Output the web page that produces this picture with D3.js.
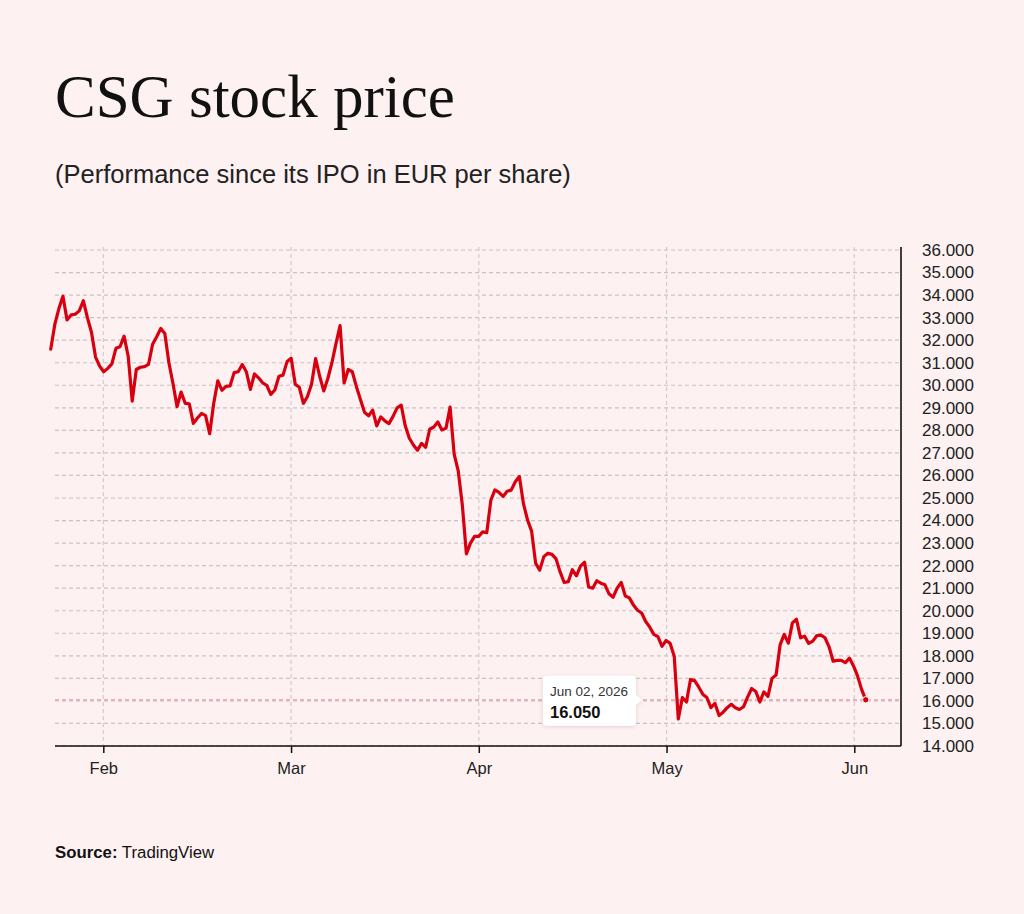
<!DOCTYPE html>
<html>
<head>
<meta charset="utf-8">
<script src="https://cdn.jsdelivr.net/npm/d3@7"></script>
<style>
  html, body { margin: 0; padding: 0; background: #fdf1f1; }
  svg { display: block; }
</style>
</head>
<body>
<svg id="chart" width="1024" height="914"></svg>
<script>
// month ticks (x unit = month number, Feb 1st = 1)
const monthLabels = ["Feb", "Mar", "Apr", "May", "Jun"];
const monthTicks = [1, 2, 3, 4, 5];
const priceTicks = d3.range(14, 37);

// first and last quote in month units, quotes are evenly spaced between them
const firstQuote = 0.72;
const lastQuote = 5.061;

// CSG closing prices, EUR per share
const prices = [
  31.6, 32.7, 33.4, 33.95, 32.9, 33.12, 33.15, 33.3, 33.75, 33.0,
  32.35, 31.25, 30.85, 30.6, 30.75, 30.95, 31.64, 31.71, 32.18, 31.3,
  29.3, 30.7, 30.8, 30.83, 30.93, 31.82, 32.15, 32.52, 32.3, 31.0,
  30.08, 29.05, 29.7, 29.2, 29.18, 28.31, 28.55, 28.75, 28.65, 27.85,
  29.2, 30.2, 29.78, 29.95, 29.97, 30.56, 30.6, 30.92, 30.6, 29.82,
  30.5, 30.33, 30.11, 30.0, 29.6, 29.79, 30.4, 30.45, 31.05, 31.2,
  30.05, 29.91, 29.2, 29.5, 30.05, 31.18, 30.4, 29.75, 30.3, 31.0,
  31.85, 32.65, 30.1, 30.7, 30.6, 29.95, 29.37, 28.8, 28.65, 28.9,
  28.2, 28.6, 28.42, 28.3, 28.62, 29.0, 29.12, 28.2, 27.65, 27.35,
  27.12, 27.42, 27.25, 28.05, 28.15, 28.37, 28.02, 28.1, 29.03, 26.95,
  26.2, 24.7, 22.52, 23.0, 23.3, 23.3, 23.5, 23.46, 24.9, 25.36,
  25.25, 25.07, 25.3, 25.35, 25.72, 25.95, 24.75, 24.03, 23.53, 22.1,
  21.8, 22.4, 22.55, 22.5, 22.3, 21.72, 21.25, 21.29, 21.82, 21.55,
  21.98, 22.15, 21.05, 21.0, 21.33, 21.22, 21.15, 20.75, 20.6, 21.0,
  21.25, 20.65, 20.57, 20.25, 20.02, 19.9, 19.52, 19.27, 18.95, 18.85,
  18.42, 18.68, 18.55, 17.98, 15.2, 16.15, 15.95, 16.95, 16.9, 16.62,
  16.3, 16.15, 15.7, 15.89, 15.35, 15.5, 15.7, 15.85, 15.7, 15.62,
  15.74, 16.17, 16.55, 16.42, 15.95, 16.4, 16.2, 17.0, 17.15, 18.5,
  18.95, 18.56, 19.46, 19.62, 18.8, 18.87, 18.55, 18.65, 18.9, 18.92,
  18.8, 18.4, 17.76, 17.8, 17.8, 17.7, 17.9, 17.55, 17.1, 16.5,
  16.05
];

const lastDate = "Jun 02, 2026";
const lastPrice = prices[prices.length - 1];

const svg = d3.select("#chart");
const plot = { left: 55, right: 901, top: 250, bottom: 746 };

const x = d3.scaleLinear().domain([1, 5]).range([103.3, 854.3]);
const y = d3.scaleLinear().domain([14, 36]).range([plot.bottom, plot.top]);
const step = (lastQuote - firstQuote) / (prices.length - 1);
const data = prices.map((p, i) => ({ t: firstQuote + i * step, v: p }));

// titles
svg.append("text")
  .attr("x", 55).attr("y", 117)
  .attr("font-family", "Liberation Serif, Times New Roman, serif")
  .attr("font-size", 61)
  .attr("fill", "#111")
  .text("CSG stock price");

svg.append("text")
  .attr("x", 55).attr("y", 183)
  .attr("font-family", "Liberation Sans, Arial, sans-serif")
  .attr("font-size", 25.5)
  .attr("fill", "#222")
  .text("(Performance since its IPO in EUR per share)");

// grid
svg.append("g")
  .selectAll("line")
  .data(priceTicks)
  .join("line")
  .attr("x1", plot.left).attr("x2", plot.right)
  .attr("y1", d => y(d)).attr("y2", d => y(d))
  .attr("stroke", "#c8c4c4")
  .attr("stroke-width", 1.2)
  .attr("stroke-dasharray", "4,3");

svg.append("g")
  .selectAll("line")
  .data(monthTicks)
  .join("line")
  .attr("x1", d => x(d)).attr("x2", d => x(d))
  .attr("y1", plot.top - 3).attr("y2", plot.bottom)
  .attr("stroke", "#d2cccc")
  .attr("stroke-width", 1.2)
  .attr("stroke-dasharray", "4,3");

// last price marker line
svg.append("line")
  .attr("x1", plot.left).attr("x2", plot.right)
  .attr("y1", y(lastPrice)).attr("y2", y(lastPrice))
  .attr("stroke", "#f09a9e")
  .attr("stroke-width", 1.2)
  .attr("stroke-dasharray", "4,3");

// axes
const xAxis = d3.axisBottom(x)
  .tickValues(monthTicks)
  .tickFormat((d, i) => monthLabels[i])
  .tickSize(7)
  .tickPadding(9);

const gx = svg.append("g")
  .attr("transform", `translate(0,${plot.bottom})`)
  .call(xAxis);
gx.select(".domain").remove();
gx.selectAll(".tick line").attr("stroke", "#111").attr("stroke-width", 1.5);
gx.selectAll(".tick text")
  .attr("font-family", "Liberation Sans, Arial, sans-serif")
  .attr("font-size", 16.5)
  .attr("fill", "#222");

const yAxis = d3.axisRight(y)
  .tickValues(priceTicks)
  .tickFormat(d3.format(".3f"))
  .tickSize(0)
  .tickPadding(21);

const gy = svg.append("g")
  .attr("transform", `translate(${plot.right},0)`)
  .call(yAxis);
gy.select(".domain").remove();
gy.selectAll(".tick text")
  .attr("font-family", "Liberation Sans, Arial, sans-serif")
  .attr("font-size", 17)
  .attr("fill", "#222");

svg.append("line")
  .attr("x1", plot.left).attr("x2", plot.right)
  .attr("y1", plot.bottom).attr("y2", plot.bottom)
  .attr("stroke", "#111").attr("stroke-width", 1.6);

svg.append("line")
  .attr("x1", plot.right).attr("x2", plot.right)
  .attr("y1", plot.top - 3).attr("y2", plot.bottom)
  .attr("stroke", "#111").attr("stroke-width", 1.6);

// price line
const line = d3.line()
  .x(d => x(d.t))
  .y(d => y(d.v));

svg.append("path")
  .datum(data)
  .attr("d", line)
  .attr("fill", "none")
  .attr("stroke", "#d8000f")
  .attr("stroke-width", 3.2)
  .attr("stroke-linejoin", "round")
  .attr("stroke-linecap", "round");

const last = data[data.length - 1];
svg.append("circle")
  .attr("cx", x(last.t)).attr("cy", y(last.v))
  .attr("r", 3.2)
  .attr("fill", "#d8000f")
  .attr("stroke", "#fff")
  .attr("stroke-width", 1);

// tooltip
const defs = svg.append("defs");
defs.append("filter")
  .attr("id", "shadow")
  .attr("x", "-20%").attr("y", "-20%")
  .attr("width", "140%").attr("height", "140%")
  .append("feDropShadow")
  .attr("dx", 0).attr("dy", 1)
  .attr("stdDeviation", 2)
  .attr("flood-color", "#000")
  .attr("flood-opacity", 0.12);

const tipY = y(last.v);
const tip = svg.append("g").attr("filter", "url(#shadow)");
tip.append("rect")
  .attr("x", 543).attr("y", tipY - 24)
  .attr("width", 93).attr("height", 50)
  .attr("rx", 4)
  .attr("fill", "#fff");
tip.append("path")
  .attr("d", `M636,${tipY - 5} L642,${tipY} L636,${tipY + 5} Z`)
  .attr("fill", "#fff");

svg.append("text")
  .attr("x", 550).attr("y", tipY - 4)
  .attr("font-family", "Liberation Sans, Arial, sans-serif")
  .attr("font-size", 13.5)
  .attr("fill", "#333")
  .text(lastDate);

svg.append("text")
  .attr("x", 550).attr("y", tipY + 18)
  .attr("font-family", "Liberation Sans, Arial, sans-serif")
  .attr("font-size", 16.5)
  .attr("font-weight", "bold")
  .attr("fill", "#111")
  .text(d3.format(".3f")(lastPrice));

// source
const src = svg.append("text")
  .attr("x", 55).attr("y", 858)
  .attr("font-family", "Liberation Sans, Arial, sans-serif")
  .attr("font-size", 16.8)
  .attr("fill", "#111");
src.append("tspan").attr("font-weight", "bold").text("Source:");
src.append("tspan").text(" TradingView");
</script>
</body>
</html>
